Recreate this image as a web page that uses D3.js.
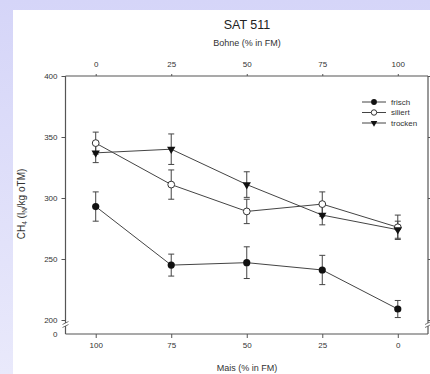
<!DOCTYPE html>
<html><head><meta charset="utf-8">
<script src="https://cdn.jsdelivr.net/npm/d3@7"></script>
<style>
html,body{margin:0;padding:0;background:#fff;}
svg{display:block;font-family:"Liberation Sans",Arial,sans-serif;}
</style></head>
<body>
<svg id="c" width="430" height="374"></svg>
<script>
const bohne = [0, 25, 50, 75, 100];
const maisLabels = ["100", "75", "50", "25", "0"];
const seriesNames = ["frisch", "siliert", "trocken"];
const frisch = [293, 245, 247, 241, 209];
const frischErr = [12, 9, 13, 12, 7];
const siliert = [345, 311, 289, 295, 276];
const siliertErr = [9, 12, 10, 10, 10];
const trocken = [337, 340, 311, 286, 274];
const trockenErr = [8, 12.5, 10.5, 8, 7];
const yTicks = [200, 250, 300, 350, 400];

(function(){
const svg = d3.select("#c");
const defs = svg.append("defs");
const g1 = defs.append("linearGradient").attr("id","bg").attr("x1","0").attr("y1","0").attr("x2","0").attr("y2","1");
g1.append("stop").attr("offset","0").attr("stop-color","#d5d5f8");
g1.append("stop").attr("offset","1").attr("stop-color","#e9e9fb");
svg.append("rect").attr("width",430).attr("height",374).attr("fill","url(#bg)");
svg.append("rect").attr("x",13).attr("y",10).attr("width",417).attr("height",364).attr("fill","#fff");

const x = d3.scaleLinear().domain([-10, 110]).range([65.5, 428]);
const y = d3.scaleLinear().domain([200, 400]).range([320, 76]);
const yBase = 334;
const axisCol = "#555";
const txtCol = "#333";

const leftAx = svg.append("g").attr("transform","translate(65.5,0)")
  .call(d3.axisLeft(y).tickValues(yTicks).tickSize(4).tickPadding(4));
leftAx.select(".domain").attr("d", `M0,${y(400)}V${yBase}`);
leftAx.append("text").attr("x",-8).attr("y",yBase).attr("dy","0.32em").attr("text-anchor","end")
  .attr("font-size",8).attr("fill",txtCol).text("0");

const rightAx = svg.append("g").attr("transform","translate(428,0)")
  .call(d3.axisRight(y).tickValues(yTicks).tickSize(3).tickFormat(""));
rightAx.select(".domain").attr("d", `M0,${y(400)}V${yBase}`);

const bottomAx = svg.append("g").attr("transform",`translate(0,${yBase})`)
  .call(d3.axisBottom(x).tickValues(bohne).tickSize(4).tickPadding(4).tickFormat((d,i)=>maisLabels[i]));
bottomAx.select(".domain").attr("d", `M${x(-10)},0H${x(110)}`);

const topAx = svg.append("g").attr("transform",`translate(0,${y(400)})`)
  .call(d3.axisTop(x).tickValues(bohne).tickSize(2).tickPadding(7).tickFormat(d3.format("d")));
topAx.select(".domain").attr("d", `M${x(-10)},0H${x(110)}`);

svg.selectAll(".domain").attr("stroke",axisCol).attr("stroke-width",1.2);
svg.selectAll(".tick line").attr("stroke",axisCol);
svg.selectAll(".tick text").attr("font-size",8).attr("fill",txtCol).attr("font-family","Liberation Sans, Arial, sans-serif");

[65.5, 428].forEach(xx => {
  const bg = svg.append("g");
  bg.append("rect").attr("x",xx-4).attr("y",323).attr("width",8).attr("height",3).attr("fill","#fff");
  bg.append("line").attr("x1",xx-3).attr("y1",324.5).attr("x2",xx+3).attr("y2",321.5).attr("stroke",axisCol).attr("stroke-width",0.8);
  bg.append("line").attr("x1",xx-3).attr("y1",327.5).attr("x2",xx+3).attr("y2",324.5).attr("stroke",axisCol).attr("stroke-width",0.8);
});

svg.append("text").attr("x",247).attr("y",29).attr("text-anchor","middle").attr("font-size",12.5).attr("fill","#222").text("SAT 511");
svg.append("text").attr("x",247).attr("y",46).attr("text-anchor","middle").attr("font-size",9).attr("fill",txtCol).text("Bohne (% in FM)");
svg.append("text").attr("x",247).attr("y",371).attr("text-anchor","middle").attr("font-size",9).attr("fill",txtCol).text("Mais (% in FM)");
const yl = svg.append("text").attr("transform","translate(25,204) rotate(-90)").attr("text-anchor","middle")
  .attr("font-size",10).attr("fill",txtCol);
yl.append("tspan").text("CH");
yl.append("tspan").attr("font-size",6.5).attr("dy",2).text("4");
yl.append("tspan").attr("dy",-2).text(" (l");
yl.append("tspan").attr("font-size",6.5).attr("dy",2).text("N");
yl.append("tspan").attr("dy",-2).text("/kg oTM)");

const series = [
  {name:seriesNames[0], vals:frisch, err:frischErr, type:"fc"},
  {name:seriesNames[1], vals:siliert, err:siliertErr, type:"oc"},
  {name:seriesNames[2], vals:trocken, err:trockenErr, type:"tri"}
];
const lineCol = "#444";
const lineGen = d3.line().x(d=>x(d[0])).y(d=>y(d[1]));

function marker(g, type, cx, cy, k){
  if(type==="fc") g.append("circle").attr("cx",cx).attr("cy",cy).attr("r",3.6*k).attr("fill","#111");
  else if(type==="oc") g.append("circle").attr("cx",cx).attr("cy",cy).attr("r",3.4*k).attr("fill","#fff").attr("stroke","#333").attr("stroke-width",1);
  else g.append("path").attr("d",d3.symbol(d3.symbolTriangle,30*k*k)()).attr("transform",`translate(${cx},${cy}) rotate(180)`).attr("fill","#111");
}

series.forEach(s => {
  const pts = bohne.map((b,i)=>[b, s.vals[i]]);
  svg.append("path").attr("d",lineGen(pts)).attr("fill","none").attr("stroke",lineCol).attr("stroke-width",1);
  const eg = svg.append("g").attr("stroke","#444").attr("stroke-width",1);
  bohne.forEach((b,i)=>{
    const xx = x(b), y1 = y(s.vals[i]+s.err[i]), y2 = y(s.vals[i]-s.err[i]);
    eg.append("line").attr("x1",xx).attr("x2",xx).attr("y1",y1).attr("y2",y2);
    eg.append("line").attr("x1",xx-3).attr("x2",xx+3).attr("y1",y1).attr("y2",y1);
    eg.append("line").attr("x1",xx-3).attr("x2",xx+3).attr("y1",y2).attr("y2",y2);
  });
});
series.forEach(s => {
  const mg = svg.append("g");
  bohne.forEach((b,i)=> marker(mg, s.type, x(b), y(s.vals[i]), 1));
});

const lg = svg.append("g");
series.forEach((s,i)=>{
  const ly = 102 + i*10.5;
  lg.append("line").attr("x1",362).attr("x2",386).attr("y1",ly).attr("y2",ly).attr("stroke",lineCol).attr("stroke-width",1);
  marker(lg, s.type, 374, ly, 0.8);
  lg.append("text").attr("x",391).attr("y",ly).attr("dy","0.33em").attr("font-size",8).attr("fill",txtCol).text(s.name);
});
})();
</script>
</body></html>
